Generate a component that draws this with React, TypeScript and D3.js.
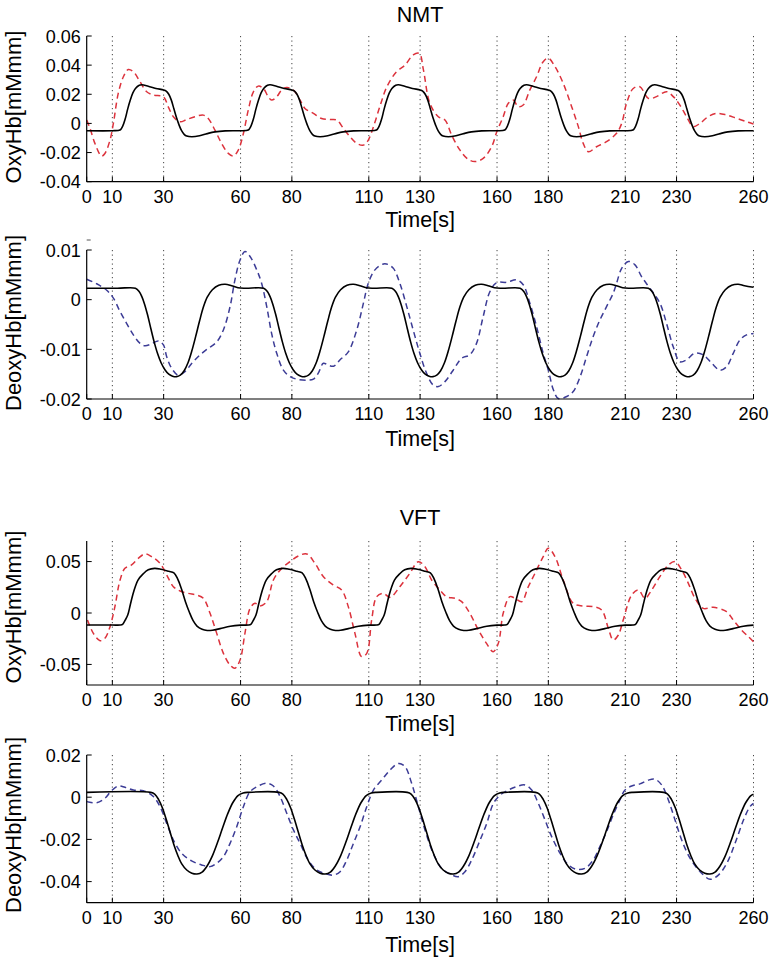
import React from "react";
import * as d3 from "d3";

// ---------- DATA ----------
const xTicks = [0, 10, 30, 60, 80, 110, 130, 160, 180, 210, 230, 260];

const yTicksNmtOxy = [0.06, 0.04, 0.02, 0, -0.02, -0.04];
const yLabelsNmtOxy = ["0.06", "0.04", "0.02", "0", "-0.02", "-0.04"];
const yTicksNmtDeoxy = [0.01, 0, -0.01, -0.02];
const yLabelsNmtDeoxy = ["0.01", "0", "-0.01", "-0.02"];
const yTicksVftOxy = [0.05, 0, -0.05];
const yLabelsVftOxy = ["0.05", "0", "-0.05"];
const yTicksVftDeoxy = [0.02, 0, -0.02, -0.04];
const yLabelsVftDeoxy = ["0.02", "0", "-0.02", "-0.04"];

// NMT OxyHb model (black)
const nmtOxyModel: [number, number][] = [
  [0, -0.005],
  [10, -0.005], [13, -0.0045], [14, -0.002], [15, 0.003], [16, 0.010], [17, 0.016], [18, 0.021], [19, 0.024], [20.5, 0.0262], [21.5, 0.0265], [24, 0.0255], [27, 0.024], [30, 0.023], [31, 0.0222], [32, 0.020], [33, 0.016], [34, 0.010], [35, 0.004], [36, -0.001], [37, -0.005], [38, -0.0075], [39, -0.0087], [41, -0.0092], [44, -0.0085], [47, -0.007], [50, -0.0058], [54, -0.0051], [58, -0.005],
  [60, -0.005], [63, -0.0045], [64, -0.002], [65, 0.003], [66, 0.010], [67, 0.016], [68, 0.021], [69, 0.024], [70.5, 0.0262], [71.5, 0.0265], [74, 0.0255], [77, 0.024], [80, 0.023], [81, 0.0222], [82, 0.020], [83, 0.016], [84, 0.010], [85, 0.004], [86, -0.001], [87, -0.005], [88, -0.0075], [89, -0.0087], [91, -0.0092], [94, -0.0085], [97, -0.007], [100, -0.0058], [104, -0.0051], [108, -0.005],
  [110, -0.005], [113, -0.0045], [114, -0.002], [115, 0.003], [116, 0.010], [117, 0.016], [118, 0.021], [119, 0.024], [120.5, 0.0262], [121.5, 0.0265], [124, 0.0255], [127, 0.024], [130, 0.023], [131, 0.0222], [132, 0.020], [133, 0.016], [134, 0.010], [135, 0.004], [136, -0.001], [137, -0.005], [138, -0.0075], [139, -0.0087], [141, -0.0092], [144, -0.0085], [147, -0.007], [150, -0.0058], [154, -0.0051], [158, -0.005],
  [160, -0.005], [163, -0.0045], [164, -0.002], [165, 0.003], [166, 0.010], [167, 0.016], [168, 0.021], [169, 0.024], [170.5, 0.0262], [171.5, 0.0265], [174, 0.0255], [177, 0.024], [180, 0.023], [181, 0.0222], [182, 0.020], [183, 0.016], [184, 0.010], [185, 0.004], [186, -0.001], [187, -0.005], [188, -0.0075], [189, -0.0087], [191, -0.0092], [194, -0.0085], [197, -0.007], [200, -0.0058], [204, -0.0051], [208, -0.005],
  [210, -0.005], [213, -0.0045], [214, -0.002], [215, 0.003], [216, 0.010], [217, 0.016], [218, 0.021], [219, 0.024], [220.5, 0.0262], [221.5, 0.0265], [224, 0.0255], [227, 0.024], [230, 0.023], [231, 0.0222], [232, 0.020], [233, 0.016], [234, 0.010], [235, 0.004], [236, -0.001], [237, -0.005], [238, -0.0075], [239, -0.0087], [241, -0.0092], [244, -0.0085], [247, -0.007], [250, -0.0058], [254, -0.0051], [258, -0.005],
  [260, -0.005],
];

// NMT OxyHb measured (red dashed)
const nmtOxyMeasured: [number, number][] = [
  [0, 0.0023], [1.3, -0.0034], [3.2, -0.0137], [5.8, -0.0224], [7.1, -0.0206], [9.1, -0.0114], [10.4, 0], [12.3, 0.0206], [14.3, 0.032], [16.2, 0.037], [18.2, 0.0355], [20.8, 0.0286], [23.4, 0.0217], [26, 0.0195], [29.9, 0.0183], [31.8, 0.0114], [33.8, 0.0046], [36.4, 0.0011], [39, 0.0027], [42.2, 0.0046], [45.5, 0.0057], [47.4, 0.0034], [50, -0.0046], [52.6, -0.0137], [55.2, -0.0206], [57.2, -0.0224], [59.1, -0.0183], [61.1, -0.0069], [63, 0.0092], [65, 0.0217], [66.9, 0.0256], [68.9, 0.024], [70.8, 0.0183], [72.1, 0.016], [74.1, 0.0183], [76, 0.0229], [78, 0.0247], [80.6, 0.0229], [83.2, 0.016], [85.1, 0.0103], [88.4, 0.0069], [91.6, 0.0034], [94.9, 0.0027], [97.5, 0.0023], [100.1, -0.0034], [102.7, -0.0092], [105.3, -0.0137], [107.9, -0.0149], [109.8, -0.0114], [111.8, -0.0023], [114.3, 0.0115], [117, 0.025], [120.8, 0.0355], [124.1, 0.040], [127.3, 0.047], [129.7, 0.048], [131.3, 0.0367], [133.8, 0.0138], [137.1, 0.0046], [139.7, 0.0023], [142.3, -0.008], [145.5, -0.0182], [148.8, -0.0247], [151.4, -0.0262], [154.6, -0.024], [157.9, -0.016], [159.9, -0.0057], [162.4, 0.0046], [164.4, 0.0138], [166.3, 0.016], [168.3, 0.0115], [170.2, 0.0126], [172.8, 0.023], [175.4, 0.032], [178, 0.0424], [180, 0.0447], [182.6, 0.039], [185.8, 0.0275], [189.1, 0.0115], [191.7, -0.0022], [193.6, -0.0137], [195.6, -0.0194], [198.8, -0.016], [202.7, -0.0125], [206.6, -0.0068], [208.6, 0], [210.5, 0.0138], [213.1, 0.024], [215.7, 0.0252], [219, 0.0172], [222.2, 0.0184], [226.1, 0.0218], [228.7, 0.0184], [231.3, 0.0126], [233.9, 0.0046], [236.5, -0.0022], [239.1, 0], [242.3, 0.0046], [245.6, 0.0069], [249.5, 0.0058], [253.4, 0.0035], [257.3, 0.0012], [260, -0.0004],
];

// NMT DeoxyHb model (black)
const nmtDeoxyModel: [number, number][] = [
  [0, 0.0023], [12, 0.0023],
  [19, 0.0023], [20.5, 0.0016], [21.5, 0.0006], [22.5, -0.0008], [23.7, -0.003], [25, -0.0058], [26.3, -0.0085], [27.6, -0.0108], [29, -0.0127], [30.5, -0.0141], [32, -0.015], [33.5, -0.0154], [35, -0.0155], [36.5, -0.0152], [38, -0.0143], [39.5, -0.0127], [41, -0.0103], [42.5, -0.0074], [44, -0.0043], [45.5, -0.0015], [47, 0.0005], [49, 0.002], [51.5, 0.0029], [54, 0.0031], [56.5, 0.0028], [59, 0.0024], [62, 0.0023],
  [69, 0.0023], [70.5, 0.0016], [71.5, 0.0006], [72.5, -0.0008], [73.7, -0.003], [75, -0.0058], [76.3, -0.0085], [77.6, -0.0108], [79, -0.0127], [80.5, -0.0141], [82, -0.015], [83.5, -0.0154], [85, -0.0155], [86.5, -0.0152], [88, -0.0143], [89.5, -0.0127], [91, -0.0103], [92.5, -0.0074], [94, -0.0043], [95.5, -0.0015], [97, 0.0005], [99, 0.002], [101.5, 0.0029], [104, 0.0031], [106.5, 0.0028], [109, 0.0024], [112, 0.0023],
  [119, 0.0023], [120.5, 0.0016], [121.5, 0.0006], [122.5, -0.0008], [123.7, -0.003], [125, -0.0058], [126.3, -0.0085], [127.6, -0.0108], [129, -0.0127], [130.5, -0.0141], [132, -0.015], [133.5, -0.0154], [135, -0.0155], [136.5, -0.0152], [138, -0.0143], [139.5, -0.0127], [141, -0.0103], [142.5, -0.0074], [144, -0.0043], [145.5, -0.0015], [147, 0.0005], [149, 0.002], [151.5, 0.0029], [154, 0.0031], [156.5, 0.0028], [159, 0.0024], [162, 0.0023],
  [169, 0.0023], [170.5, 0.0016], [171.5, 0.0006], [172.5, -0.0008], [173.7, -0.003], [175, -0.0058], [176.3, -0.0085], [177.6, -0.0108], [179, -0.0127], [180.5, -0.0141], [182, -0.015], [183.5, -0.0154], [185, -0.0155], [186.5, -0.0152], [188, -0.0143], [189.5, -0.0127], [191, -0.0103], [192.5, -0.0074], [194, -0.0043], [195.5, -0.0015], [197, 0.0005], [199, 0.002], [201.5, 0.0029], [204, 0.0031], [206.5, 0.0028], [209, 0.0024], [212, 0.0023],
  [219, 0.0023], [220.5, 0.0016], [221.5, 0.0006], [222.5, -0.0008], [223.7, -0.003], [225, -0.0058], [226.3, -0.0085], [227.6, -0.0108], [229, -0.0127], [230.5, -0.0141], [232, -0.015], [233.5, -0.0154], [235, -0.0155], [236.5, -0.0152], [238, -0.0143], [239.5, -0.0127], [241, -0.0103], [242.5, -0.0074], [244, -0.0043], [245.5, -0.0015], [247, 0.0005], [249, 0.002], [251.5, 0.0029], [254, 0.0031], [256.5, 0.0028], [260, 0.0025],
];

// NMT DeoxyHb measured (blue dashed)
const nmtDeoxyMeasured: [number, number][] = [
  [0, 0.0041], [3.9, 0.0032], [7.8, 0.0019], [10.4, 0.0003], [13, -0.0024], [15.6, -0.0048], [18.2, -0.0071], [20.8, -0.0088], [22.7, -0.0093], [25.3, -0.0089], [27.9, -0.0083], [29.9, -0.0091], [31.2, -0.0115], [33.1, -0.0138], [35.7, -0.0152], [38.3, -0.0145], [41, -0.0128], [44.2, -0.0111], [47.4, -0.0098], [50.7, -0.0085], [53.3, -0.0061], [55.9, -0.0014], [57.8, 0.004], [59.8, 0.008], [61.7, 0.0097], [63.7, 0.0087], [66.3, 0.006], [68.2, 0.0033], [70.2, -0.0014], [72.1, -0.0068], [74.1, -0.0108], [76.7, -0.0142], [79.3, -0.0155], [81.9, -0.016], [85.8, -0.0162], [88.4, -0.016], [90.3, -0.0148], [92.3, -0.0128], [94.2, -0.0132], [96.2, -0.0134], [98.8, -0.0121], [102, -0.0105], [105.3, -0.0061], [107.9, -0.0007], [109.8, 0.0033], [112.4, 0.006], [115.7, 0.0072], [117.5, 0.0071], [119.6, 0.0063], [122.1, 0.0033], [124.8, -0.0014], [127.3, -0.0061], [129.9, -0.0108], [132.5, -0.0148], [135.1, -0.0172], [137.1, -0.0175], [139.7, -0.0165], [142.9, -0.0142], [146.2, -0.0118], [149.4, -0.0111], [152, -0.0088], [154.6, -0.0034], [157.2, 0.0016], [159.8, 0.0034], [163.8, 0.0035], [167.6, 0.004], [170.2, 0.003], [172.8, -0.0007], [175.4, -0.0054], [178, -0.0108], [180, -0.0142], [182, -0.0182], [183.9, -0.0199], [187.2, -0.0195], [189.7, -0.0185], [192.4, -0.0155], [194.9, -0.0115], [197.5, -0.0074], [200.1, -0.0041], [202.7, -0.0014], [205.3, 0.0013], [206.6, 0.0033], [208.6, 0.0063], [211.2, 0.0077], [213.8, 0.007], [216.4, 0.0046], [219.6, 0.0023], [223.5, -0.0007], [226.1, -0.0048], [228.7, -0.0095], [231.3, -0.0125], [233.9, -0.0121], [237.1, -0.0108], [240.4, -0.0111], [243.7, -0.0128], [246.9, -0.0142], [249.5, -0.0135], [252.1, -0.0108], [254.7, -0.0081], [257.3, -0.0071], [260, -0.0068],
];

// VFT OxyHb model (black)
const vftOxyModel: [number, number][] = [
  [0, -0.0117],
  [10, -0.0117], [13, -0.0117], [14, -0.011], [15, -0.007], [16, -0.002], [17, 0.008], [18, 0.018], [19, 0.026], [20, 0.032], [22, 0.038], [24, 0.042], [26.5, 0.0434], [29, 0.0425], [32, 0.0405], [34, 0.039], [35.5, 0.033], [37, 0.023], [38.5, 0.011], [40, 0.001], [41.5, -0.0075], [43, -0.0127], [45, -0.0158], [47, -0.017], [49, -0.0168], [52, -0.0152], [56, -0.0128],
  [60, -0.0118], [63, -0.0117], [64, -0.011], [65, -0.007], [66, -0.002], [67, 0.008], [68, 0.018], [69, 0.026], [70, 0.032], [72, 0.038], [74, 0.042], [76.5, 0.0434], [79, 0.0425], [82, 0.0405], [84, 0.039], [85.5, 0.033], [87, 0.023], [88.5, 0.011], [90, 0.001], [91.5, -0.0075], [93, -0.0127], [95, -0.0158], [97, -0.017], [99, -0.0168], [102, -0.0152], [106, -0.0128],
  [110, -0.0118], [113, -0.0117], [114, -0.011], [115, -0.007], [116, -0.002], [117, 0.008], [118, 0.018], [119, 0.026], [120, 0.032], [122, 0.038], [124, 0.042], [126.5, 0.0434], [129, 0.0425], [132, 0.0405], [134, 0.039], [135.5, 0.033], [137, 0.023], [138.5, 0.011], [140, 0.001], [141.5, -0.0075], [143, -0.0127], [145, -0.0158], [147, -0.017], [149, -0.0168], [152, -0.0152], [156, -0.0128],
  [160, -0.0118], [163, -0.0117], [164, -0.011], [165, -0.007], [166, -0.002], [167, 0.008], [168, 0.018], [169, 0.026], [170, 0.032], [172, 0.038], [174, 0.042], [176.5, 0.0434], [179, 0.0425], [182, 0.0405], [184, 0.039], [185.5, 0.033], [187, 0.023], [188.5, 0.011], [190, 0.001], [191.5, -0.0075], [193, -0.0127], [195, -0.0158], [197, -0.017], [199, -0.0168], [202, -0.0152], [206, -0.0128],
  [210, -0.0118], [213, -0.0117], [214, -0.011], [215, -0.007], [216, -0.002], [217, 0.008], [218, 0.018], [219, 0.026], [220, 0.032], [222, 0.038], [224, 0.042], [226.5, 0.0434], [229, 0.0425], [232, 0.0405], [234, 0.039], [235.5, 0.033], [237, 0.023], [238.5, 0.011], [240, 0.001], [241.5, -0.0075], [243, -0.0127], [245, -0.0158], [247, -0.017], [249, -0.0168], [252, -0.0152], [256, -0.0128],
  [260, -0.0118],
];

// VFT OxyHb measured (red dashed)
const vftOxyMeasured: [number, number][] = [
  [0.3, -0.0068], [2.6, -0.0198], [5.2, -0.0269], [7.1, -0.0246], [9.1, -0.0133], [11, 0.0062], [13, 0.0321], [14.9, 0.0434], [17.5, 0.0467], [20.1, 0.0531], [22.7, 0.0574], [25.3, 0.0548], [28.6, 0.0483], [31.2, 0.037], [33.8, 0.0256], [36.4, 0.0214], [39.6, 0.0191], [42.9, 0.0175], [45.5, 0.0143], [48.1, -0.0003], [50.7, -0.0198], [53.3, -0.0392], [55.9, -0.0506], [57.8, -0.0538], [59.8, -0.0457], [61.7, -0.0198], [63.7, 0.0045], [65.6, 0.0094], [67.6, 0.0068], [70.2, 0.011], [72.8, 0.0321], [76, 0.0434], [79.3, 0.0499], [82.5, 0.0554], [85.8, 0.0574], [89, 0.0483], [92.3, 0.0353], [96.2, 0.0272], [99.4, 0.0224], [102, 0.0062], [104.6, -0.0198], [107.2, -0.0424], [109.2, -0.0392], [111.1, -0.0068], [113.1, 0.0159], [115.7, 0.0191], [118.3, 0.0152], [122.1, 0.0256], [126, 0.0386], [129.3, 0.0499], [131.9, 0.045], [134.5, 0.0321], [137.7, 0.0224], [140.3, 0.0159], [143.6, 0.0143], [146.2, 0.011], [149.4, -0.0003], [152.7, -0.0165], [155.9, -0.0295], [158.5, -0.0376], [160.5, -0.0295], [162.4, -0.0003], [165, 0.0159], [167, 0.0143], [169.6, 0.011], [172.2, 0.0256], [174.8, 0.0386], [178, 0.0548], [180, 0.0629], [182.6, 0.0548], [185.8, 0.0321], [189.7, 0.0094], [193.6, 0.0068], [197.5, 0.0062], [200.8, 0.0029], [203.4, -0.0149], [205.3, -0.0263], [207.3, -0.0214], [209.2, -0.0068], [212.5, 0.0175], [215.1, 0.0224], [217.7, 0.0143], [220.3, 0.0224], [223.5, 0.0353], [226.8, 0.0467], [229.4, 0.0499], [232, 0.0418], [234.6, 0.0288], [237.2, 0.0143], [240.4, 0.0045], [244.3, 0.0055], [249.5, 0.0013], [252.1, -0.0068], [255.3, -0.0165], [258, -0.023], [260, -0.0279],
];

// VFT DeoxyHb model (black)
const vftDeoxyModel: [number, number][] = [
  [0, 0.0023],
  [25, 0.0023], [26.5, 0.0015], [28, -0.001], [29.5, -0.005], [31, -0.0105], [32.5, -0.0165], [34, -0.0225], [35.5, -0.0275], [37, -0.0315], [39, -0.0345], [41, -0.036], [43, -0.0364], [45, -0.0355], [47, -0.0325], [49, -0.0278], [51, -0.0215], [53, -0.0145], [55, -0.0078], [57, -0.0025], [59, 0.0008], [61, 0.002], [63, 0.0023],
  [75, 0.0023], [76.5, 0.0015], [78, -0.001], [79.5, -0.005], [81, -0.0105], [82.5, -0.0165], [84, -0.0225], [85.5, -0.0275], [87, -0.0315], [89, -0.0345], [91, -0.036], [93, -0.0364], [95, -0.0355], [97, -0.0325], [99, -0.0278], [101, -0.0215], [103, -0.0145], [105, -0.0078], [107, -0.0025], [109, 0.0008], [111, 0.002], [113, 0.0023],
  [125, 0.0023], [126.5, 0.0015], [128, -0.001], [129.5, -0.005], [131, -0.0105], [132.5, -0.0165], [134, -0.0225], [135.5, -0.0275], [137, -0.0315], [139, -0.0345], [141, -0.036], [143, -0.0364], [145, -0.0355], [147, -0.0325], [149, -0.0278], [151, -0.0215], [153, -0.0145], [155, -0.0078], [157, -0.0025], [159, 0.0008], [161, 0.002], [163, 0.0023],
  [175, 0.0023], [176.5, 0.0015], [178, -0.001], [179.5, -0.005], [181, -0.0105], [182.5, -0.0165], [184, -0.0225], [185.5, -0.0275], [187, -0.0315], [189, -0.0345], [191, -0.036], [193, -0.0364], [195, -0.0355], [197, -0.0325], [199, -0.0278], [201, -0.0215], [203, -0.0145], [205, -0.0078], [207, -0.0025], [209, 0.0008], [211, 0.002], [213, 0.0023],
  [225, 0.0023], [226.5, 0.0015], [228, -0.001], [229.5, -0.005], [231, -0.0105], [232.5, -0.0165], [234, -0.0225], [235.5, -0.0275], [237, -0.0315], [239, -0.0345], [241, -0.036], [243, -0.0364], [245, -0.0355], [247, -0.0325], [249, -0.0278], [251, -0.0215], [253, -0.0145], [255, -0.0078], [257, -0.0025], [259, 0.0008], [260, 0.0014],
];

// VFT DeoxyHb measured (blue dashed)
const vftDeoxyMeasured: [number, number][] = [
  [0, -0.0021], [3.9, -0.0026], [7.1, -0.0005], [9.7, 0.0031], [12.3, 0.0053], [14.9, 0.0047], [18.2, 0.0034], [22.1, 0.0031], [26, 0.0003], [28.6, -0.0045], [31.2, -0.0124], [33.8, -0.0203], [37, -0.0266], [40.9, -0.0302], [44.8, -0.0321], [48.1, -0.0329], [50.7, -0.0313], [53.3, -0.0282], [55.9, -0.0219], [58.5, -0.014], [61.1, -0.0045], [63.7, 0.0026], [66.9, 0.0053], [70.2, 0.0066], [72.8, 0.0053], [75.4, 0.0003], [78, -0.0076], [80.6, -0.0155], [83.2, -0.0219], [86.4, -0.0298], [89.7, -0.0345], [93.6, -0.0364], [96.2, -0.0369], [98.8, -0.0353], [101.4, -0.0298], [104, -0.0219], [106.6, -0.014], [109.2, -0.0045], [111.8, 0.0034], [115, 0.0081], [118.3, 0.0129], [121.5, 0.016], [124.1, 0.0145], [126.7, 0.0066], [129.3, -0.0045], [131.9, -0.0155], [135.1, -0.0266], [138.4, -0.0337], [141.7, -0.0364], [144.9, -0.0377], [147.5, -0.0353], [150.1, -0.0298], [153.4, -0.0203], [156, -0.0124], [158.6, -0.0029], [161.2, 0.001], [164.4, 0.0034], [167.6, 0.005], [170.9, 0.0058], [173.5, 0.0034], [176.1, -0.0029], [178.7, -0.0108], [181.3, -0.0187], [184.6, -0.0266], [187.8, -0.0321], [191, -0.0342], [194.3, -0.0337], [197.5, -0.0298], [200.1, -0.0234], [202.7, -0.0163], [205.3, -0.0084], [207.9, -0.0013], [209.9, 0.0034], [212.5, 0.0053], [215.7, 0.0063], [219, 0.0081], [221.6, 0.0085], [224.2, 0.0058], [226.8, -0.0013], [229.4, -0.0108], [232, -0.0203], [235.3, -0.029], [239.2, -0.0353], [243.1, -0.0389], [246.3, -0.0369], [249.6, -0.0313], [252.8, -0.0219], [256.1, -0.0108], [258.6, -0.0045], [260, -0.0029],
];

// ---------- LAYOUT ----------
const W = 776;
const H = 961;
const X0 = 86.7;
const X1 = 753.5;
const FONT = "'Liberation Sans', Arial, Helvetica, sans-serif";
const RED = "#dc323c";
const BLUE = "#3c3c96";

type Panel = {
  domain: [number, number];
  top: number;
  bottom: number;
  ticks: number[];
  tickLabels: string[];
  ylabel: string;
  ylabelY: number;
  xlabelY: number;
  title?: string;
  titleY?: number;
  model: [number, number][];
  measured: [number, number][];
  color: string;
  extraMark?: boolean;
};

const panels: Panel[] = [
  {
    domain: [-0.04, 0.06], top: 36, bottom: 181.7,
    ticks: yTicksNmtOxy, tickLabels: yLabelsNmtOxy,
    ylabel: "OxyHb[mMmm]", ylabelY: 107, xlabelY: 227,
    title: "NMT", titleY: 21.5,
    model: nmtOxyModel, measured: nmtOxyMeasured, color: RED,
  },
  {
    domain: [-0.02, 0.01], top: 250, bottom: 399,
    ticks: yTicksNmtDeoxy, tickLabels: yLabelsNmtDeoxy,
    ylabel: "DeoxyHb[mMmm]", ylabelY: 323, xlabelY: 446,
    model: nmtDeoxyModel, measured: nmtDeoxyMeasured, color: BLUE, extraMark: true,
  },
  {
    domain: [-0.07, 0.07], top: 541, bottom: 685,
    ticks: yTicksVftOxy, tickLabels: yLabelsVftOxy,
    ylabel: "OxyHb[mMmm]", ylabelY: 607, xlabelY: 731,
    title: "VFT", titleY: 525,
    model: vftOxyModel, measured: vftOxyMeasured, color: RED,
  },
  {
    domain: [-0.05, 0.02], top: 755, bottom: 902.7,
    ticks: yTicksVftDeoxy, tickLabels: yLabelsVftDeoxy,
    ylabel: "DeoxyHb[mMmm]", ylabelY: 825, xlabelY: 952,
    model: vftDeoxyModel, measured: vftDeoxyMeasured, color: BLUE,
  },
];

function PanelView({ p }: { p: Panel }) {
  const x = d3.scaleLinear().domain([0, 260]).range([X0, X1]);
  const y = d3.scaleLinear().domain(p.domain).range([p.bottom, p.top]);
  const line = d3
    .line<[number, number]>()
    .x((d) => x(d[0]))
    .y((d) => y(d[1]))
    .curve(d3.curveCatmullRom.alpha(0.5));
  const cx = (X0 + X1) / 2;
  return (
    <g>
      {xTicks.filter((t) => t > 0).map((t) => (
        <line key={"g" + t} x1={x(t)} x2={x(t)} y1={p.top} y2={p.bottom}
          stroke="#444" strokeWidth={1} strokeDasharray="1.2,3.3" />
      ))}
      <path d={line(p.measured) || ""} fill="none" stroke={p.color} strokeWidth={1.5}
        strokeDasharray="6,4" />
      <path d={line(p.model) || ""} fill="none" stroke="#000" strokeWidth={1.6} />
      <line x1={X0} x2={X0} y1={p.top} y2={p.bottom} stroke="#000" strokeWidth={1.2} />
      <line x1={X0} x2={X1} y1={p.bottom} y2={p.bottom} stroke="#000" strokeWidth={1.2} />
      {p.extraMark && (
        <line x1={X0} x2={X0 + 4} y1={p.top - 10} y2={p.top - 10} stroke="#555" strokeWidth={1} />
      )}
      {p.ticks.map((v, i) => (
        <g key={"y" + v}>
          <line x1={X0} x2={X0 + 5} y1={y(v)} y2={y(v)} stroke="#000" strokeWidth={1} />
          <text x={X0 - 6} y={y(v) + 6.5} textAnchor="end" fontSize={18} fontFamily={FONT}>
            {p.tickLabels[i]}
          </text>
        </g>
      ))}
      {xTicks.map((t) => (
        <g key={"x" + t}>
          <line x1={x(t)} x2={x(t)} y1={p.bottom} y2={p.bottom - 5} stroke="#000" strokeWidth={1} />
          <text x={x(t)} y={p.bottom + 21} textAnchor="middle" fontSize={18} fontFamily={FONT}>
            {t}
          </text>
        </g>
      ))}
      <text x={cx} y={p.xlabelY} textAnchor="middle" fontSize={21.5} fontFamily={FONT}>
        Time[s]
      </text>
      <text transform={`translate(21,${p.ylabelY}) rotate(-90)`} textAnchor="middle"
        fontSize={22} fontFamily={FONT}>
        {p.ylabel}
      </text>
      {p.title && (
        <text x={cx} y={p.titleY} textAnchor="middle" fontSize={21.5} fontFamily={FONT}>
          {p.title}
        </text>
      )}
    </g>
  );
}

export default function App() {
  return (
    <svg width={W} height={H} viewBox={`0 0 ${W} ${H}`}
      style={{ position: "absolute", left: 0, top: 0, background: "#fff" }}>
      <rect x={0} y={0} width={W} height={H} fill="#fff" />
      {panels.map((p, i) => (
        <PanelView key={i} p={p} />
      ))}
    </svg>
  );
}
